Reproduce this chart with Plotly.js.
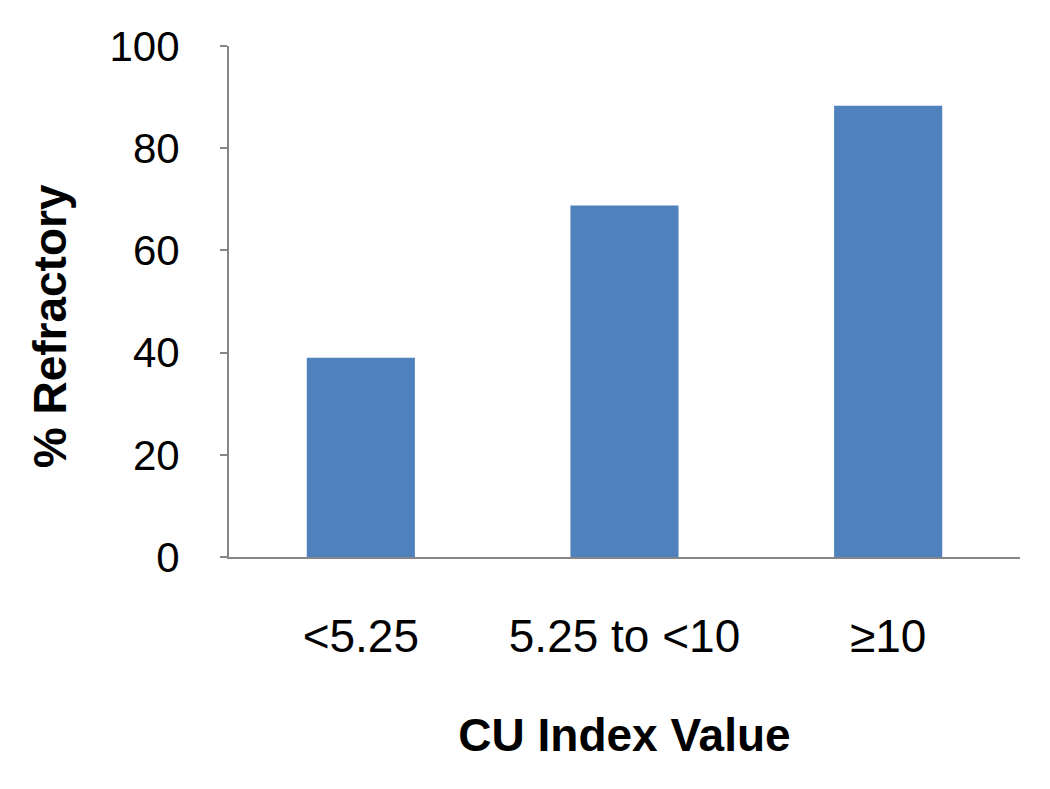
<!DOCTYPE html>
<html>
<head>
<meta charset="utf-8">
<script src="https://cdn.plot.ly/plotly-3.0.1.min.js"></script>
<style>
  html, body { margin: 0; padding: 0; background: #fff; }
  #plotDiv { width: 1050px; height: 789px; }
</style>
</head>
<body>
<div id="plotDiv"></div>
<script>
var categories = ['<5.25', '5.25 to <10', '\u226510'];
var refractory = [39, 68.8, 88.3];
var yTicks = [0, 20, 40, 60, 80, 100];

var bars = {
  type: 'bar',
  x: categories,
  y: refractory,
  marker: { color: '#4f81bd' },
  hoverinfo: 'x+y'
};

var layout = {
  width: 1050,
  height: 789,
  margin: { l: 229, r: 30, t: 46, b: 232 },
  paper_bgcolor: '#fff',
  plot_bgcolor: '#fff',
  showlegend: false,
  bargap: 0.59,
  font: { family: 'Liberation Sans, Arial, sans-serif', color: '#000' },
  xaxis: {
    showline: true,
    linecolor: '#868686',
    linewidth: 2,
    ticks: '',
    tickfont: { size: 46 },
    ticklabelstandoff: 38,
    title: { text: '<b>CU Index Value</b>', font: { size: 46 }, standoff: 58 },
    fixedrange: true
  },
  yaxis: {
    range: [0, 100],
    tickvals: yTicks,
    showline: true,
    linecolor: '#868686',
    linewidth: 2,
    ticks: 'outside',
    ticklen: 7,
    tickwidth: 2,
    tickcolor: '#868686',
    showgrid: false,
    zeroline: false,
    tickfont: { size: 42 },
    ticklabelstandoff: 32,
    fixedrange: true
  },
  // y title placed as an annotation so it can sit a little lower, as in the original
  annotations: [{
    text: '<b>% Refractory</b>',
    textangle: -90,
    xref: 'paper', yref: 'paper',
    x: -0.226, y: 0.452,
    xanchor: 'center', yanchor: 'middle',
    showarrow: false,
    font: { size: 46 }
  }]
};

Plotly.newPlot('plotDiv', [bars], layout, { displayModeBar: false });
</script>
</body>
</html>
